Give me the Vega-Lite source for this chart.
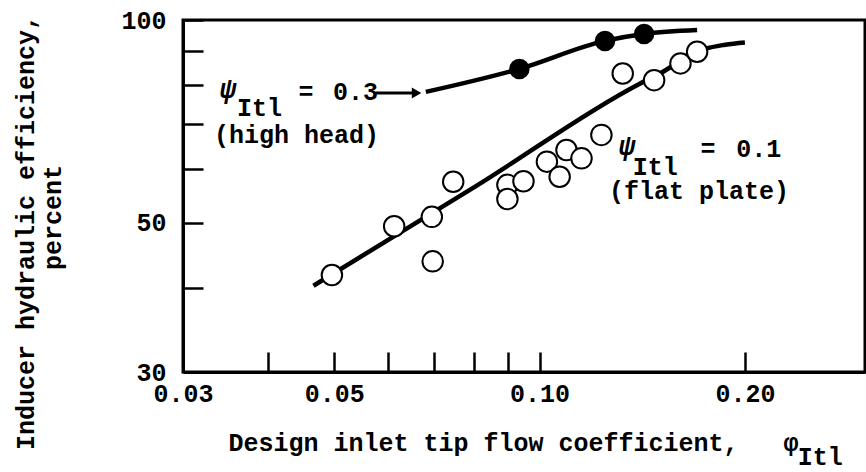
{
  "$schema": "https://vega.github.io/schema/vega-lite/v6.json",
  "width": 682,
  "height": 352,
  "autosize": {"type": "none"},
  "padding": {"left": 183, "top": 20, "right": 1, "bottom": 100},
  "background": "white",
  "config": {
    "view": {"stroke": "black", "strokeWidth": 3},
    "font": "Liberation Mono"
  },
  "datasets": {
    "curves": [
      {"series": "high", "x": 0.0681, "y": 78.2},
      {"series": "high", "x": 0.0934, "y": 84.6},
      {"series": "high", "x": 0.1247, "y": 93.1},
      {"series": "high", "x": 0.1423, "y": 95.3},
      {"series": "high", "x": 0.1702, "y": 96.6},
      {"series": "flat", "x": 0.0466, "y": 40.3},
      {"series": "flat", "x": 0.0810, "y": 56.8},
      {"series": "flat", "x": 0.1398, "y": 80.3},
      {"series": "flat", "x": 0.1505, "y": 83.4},
      {"series": "flat", "x": 0.1637, "y": 87.8},
      {"series": "flat", "x": 0.1750, "y": 90.6},
      {"series": "flat", "x": 0.1872, "y": 91.9},
      {"series": "flat", "x": 0.2000, "y": 92.6}
    ],
    "open": [
      {"x": 0.0496, "y": 41.8},
      {"x": 0.0612, "y": 49.4},
      {"x": 0.0695, "y": 51.0},
      {"x": 0.0697, "y": 43.8},
      {"x": 0.0747, "y": 57.5},
      {"x": 0.0897, "y": 56.9},
      {"x": 0.0897, "y": 54.2},
      {"x": 0.0947, "y": 57.6},
      {"x": 0.1025, "y": 61.6},
      {"x": 0.1070, "y": 58.5},
      {"x": 0.1095, "y": 64.1},
      {"x": 0.1152, "y": 62.3},
      {"x": 0.1232, "y": 67.5},
      {"x": 0.1324, "y": 83.3},
      {"x": 0.1472, "y": 81.4},
      {"x": 0.1609, "y": 86.2},
      {"x": 0.1702, "y": 89.7}
    ],
    "filled": [
      {"x": 0.0934, "y": 84.6},
      {"x": 0.1247, "y": 93.1},
      {"x": 0.1423, "y": 95.3}
    ],
    "psi": [
      {"x": 0.0340, "y": 76.6, "label": "ψ"},
      {"x": 0.1307, "y": 63.0, "label": "ψ"}
    ],
    "labels": [
      {"x": 0.0360, "y": 72.0, "label": "Itl"},
      {"x": 0.0443, "y": 76.1, "label": "="},
      {"x": 0.0498, "y": 76.1, "label": "0.3"},
      {"x": 0.0333, "y": 65.7, "label": "(high head)"},
      {"x": 0.1370, "y": 58.8, "label": "Itl"},
      {"x": 0.1721, "y": 62.6, "label": "="},
      {"x": 0.1943, "y": 62.6, "label": "0.1"},
      {"x": 0.1264, "y": 54.3, "label": "(flat plate)"},
      {"x": 0.2390, "y": 21.82, "label": "Itl"}
    ],
    "arrow": [
      {"x": 0.0575, "x2": 0.0660, "y": 77.9}
    ],
    "arrowhead": [
      {"x": 0.0660, "y": 77.9}
    ]
  },
  "encoding": {
    "x": {
      "field": "x",
      "type": "quantitative",
      "scale": {"type": "log", "domain": [0.03, 0.3], "nice": false},
      "axis": {
        "values": [0.03, 0.04, 0.05, 0.06, 0.07, 0.08, 0.09, 0.1, 0.2],
        "labelExpr": "indexof([0.03, 0.05, 0.1, 0.2], datum.value) >= 0 ? format(datum.value, '.2f') : ''",
        "grid": false,
        "tickSize": -20,
        "tickWidth": 2.5,
        "tickColor": "black",
        "domainColor": "black",
        "domainWidth": 3,
        "labelFont": "Liberation Mono",
        "labelFontSize": 25,
        "labelFontWeight": "bold",
        "labelColor": "black",
        "labelPadding": 29,
        "labelFlush": false,
        "labelOverlap": false,
        "labelDx": 8,
        "title": "Design inlet tip flow coefficient,\u00a0\u00a0\u00a0φ",
        "titleFont": "Liberation Mono",
        "titleFontSize": 25,
        "titleFontWeight": "bold",
        "titleColor": "black",
        "titleAlign": "left",
        "titleAnchor": "start",
        "titleBaseline": "alphabetic",
        "titleX": 45,
        "titleY": 78
      }
    },
    "y": {
      "field": "y",
      "type": "quantitative",
      "scale": {"type": "log", "domain": [30, 100], "nice": false},
      "axis": {
        "values": [30, 40, 50, 60, 70, 80, 90, 100],
        "labelExpr": "(datum.value == 30 || datum.value == 50 || datum.value == 100) ? datum.value : ''",
        "grid": false,
        "tickSize": -20,
        "tickWidth": 2.5,
        "tickColor": "black",
        "domainColor": "black",
        "domainWidth": 3,
        "labelFont": "Liberation Mono",
        "labelFontSize": 25,
        "labelFontWeight": "bold",
        "labelColor": "black",
        "labelPadding": 37,
        "labelOverlap": false,
        "title": ["Inducer hydraulic efficiency,", "\u200b\u00a0\u00a0percent"],
        "titleFont": "Liberation Mono",
        "titleFontSize": 25,
        "titleFontWeight": "bold",
        "titleColor": "black",
        "titleAngle": -90,
        "titleAlign": "center",
        "titleBaseline": "alphabetic",
        "titleLineHeight": 27,
        "titleX": -150,
        "titleY": 212
      }
    }
  },
  "layer": [
    {
      "data": {"name": "curves"},
      "mark": {"type": "line", "color": "black", "strokeWidth": 4.5, "interpolate": "monotone"},
      "encoding": {"detail": {"field": "series"}}
    },
    {
      "data": {"name": "open"},
      "mark": {"type": "point", "shape": "circle", "size": 420, "filled": false, "fill": "white", "fillOpacity": 1, "stroke": "black", "strokeWidth": 2, "opacity": 1}
    },
    {
      "data": {"name": "filled"},
      "mark": {"type": "point", "shape": "circle", "size": 420, "filled": true, "color": "black", "opacity": 1}
    },
    {
      "data": {"name": "arrow"},
      "mark": {"type": "rule", "color": "black", "strokeWidth": 3},
      "encoding": {"x2": {"field": "x2"}}
    },
    {
      "data": {"name": "arrowhead"},
      "mark": {"type": "point", "shape": "triangle-right", "size": 120, "filled": true, "color": "black", "opacity": 1}
    },
    {
      "data": {"name": "psi"},
      "mark": {"type": "text", "font": "Liberation Mono", "fontSize": 27, "fontStyle": "italic", "fontWeight": "bold", "align": "left", "baseline": "alphabetic", "color": "black"},
      "encoding": {"text": {"field": "label"}}
    },
    {
      "data": {"name": "labels"},
      "mark": {"type": "text", "font": "Liberation Mono", "fontSize": 25, "fontWeight": "bold", "align": "left", "baseline": "alphabetic", "color": "black"},
      "encoding": {"text": {"field": "label"}}
    }
  ]
}
